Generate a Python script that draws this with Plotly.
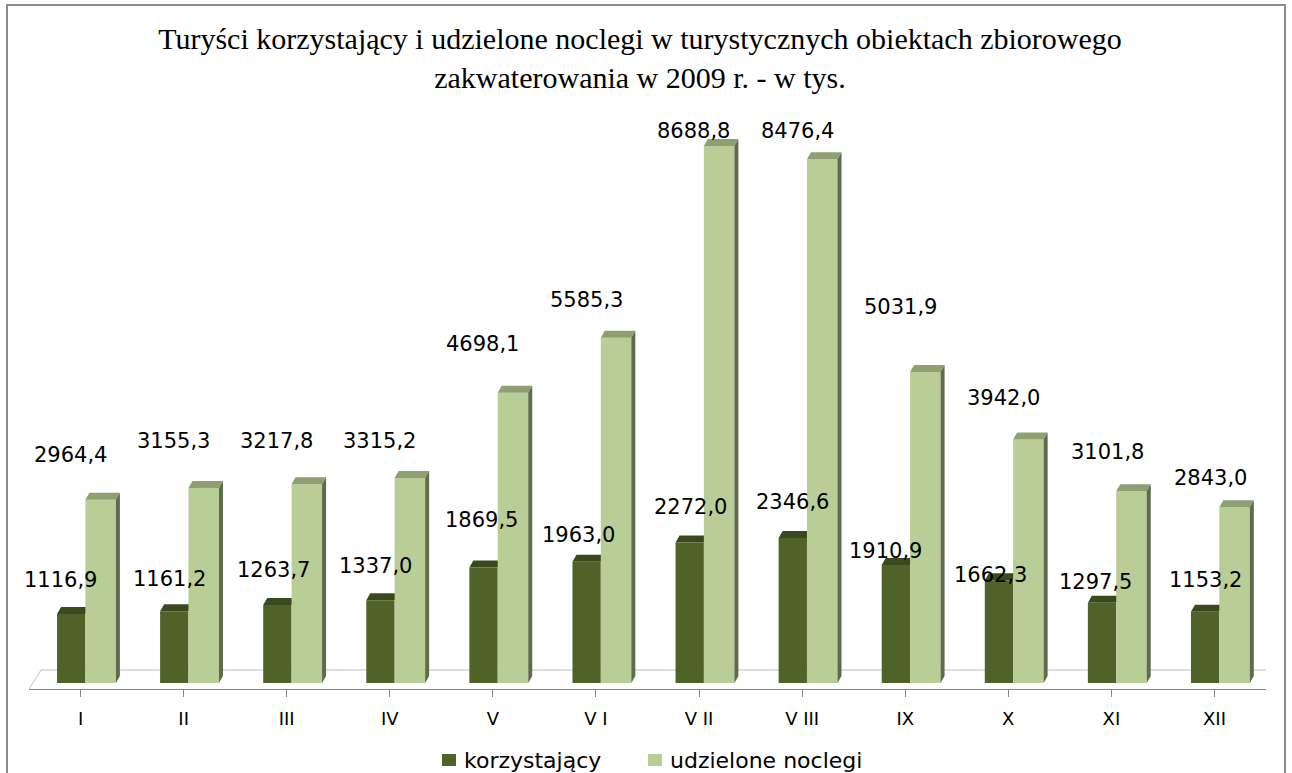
import plotly.graph_objects as go

# ---------------- data ----------------
months = ["I", "II", "III", "IV", "V", "V I", "V II", "V III", "IX", "X", "XI", "XII"]
korzystajacy = [1116.9, 1161.2, 1263.7, 1337.0, 1869.5, 1963.0, 2272.0, 2346.6, 1910.9, 1662.3, 1297.5, 1153.2]
noclegi = [2964.4, 3155.3, 3217.8, 3315.2, 4698.1, 5585.3, 8688.8, 8476.4, 5031.9, 3942.0, 3101.8, 2843.0]
labels_k = ["1116,9", "1161,2", "1263,7", "1337,0", "1869,5", "1963,0", "2272,0", "2346,6", "1910,9", "1662,3", "1297,5", "1153,2"]
labels_n = ["2964,4", "3155,3", "3217,8", "3315,2", "4698,1", "5585,3", "8688,8", "8476,4", "5031,9", "3942,0", "3101,8", "2843,0"]
series_names = ["korzystający", "udzielone noclegi"]

# label pixel offsets (position styling)
k_dx = [-20, -14, -13, -14, -11, -17, -9, -10, -20, -18, -16, -9]
k_dy = [34, 32, 35, 34, 47, 27, 36, 36, 14, 5, 21, 32]
n_dx = [-10, -10, -10, -10, -10, -9, -6, -5, -5, -5, -4, -4]
n_dy = [45, 47, 43, 37, 49, 38, 15, 28, 65, 41, 39, 29]

# ---------------- geometry ----------------
W, H = 1292, 773
ML, MR, MT, MB = 29, 26, 100, 84
plot_w = W - ML - MR
plot_h = H - MT - MB
cat_px = plot_w / 12.0
PX_PER_UNIT = 0.0618
ZERO_PX = 6  # value 0 lies 6px above plot bottom
y_min = -ZERO_PX / PX_PER_UNIT
y_max = y_min + plot_h / PX_PER_UNIT

def ux(px):
    return px / cat_px

def uy(px):
    return px / PX_PER_UNIT

def px_x(p):
    return (p - ML) / plot_w

def px_y(p):
    return (H - MB - p) / plot_h

DARK = "#4F6228"
DARK_TOP = "#3B4A1E"
LIGHT = "#B9CE96"
LIGHT_TOP = "#8E9F71"
LIGHT_SIDE = "#5F6B4A"
FONT = "DejaVu Sans"

k_off, k_w = -0.228, 0.275
n_off, n_w = 0.047, 0.296
DX, DY = ux(4), uy(7)

xs = list(range(12))
fig = go.Figure()
fig.add_trace(go.Bar(x=xs, y=korzystajacy, offset=k_off, width=k_w, marker_color=DARK,
                     marker_line_width=0, name=series_names[0]))
fig.add_trace(go.Bar(x=xs, y=noclegi, offset=n_off, width=n_w, marker_color=LIGHT,
                     marker_line_width=0, name=series_names[1]))

shapes = []
for i in xs:
    # dark top face
    x0, x1, v = i + k_off, i + k_off + k_w, korzystajacy[i]
    shapes.append(dict(type="path", xref="x", yref="y", layer="between",
                       path=f"M{x0},{v} L{x1},{v} L{x1+DX},{v+DY} L{x0+DX},{v+DY} Z",
                       fillcolor=DARK_TOP, line=dict(width=0)))
    # light top + side faces
    x0, x1, v = i + n_off, i + n_off + n_w, noclegi[i]
    shapes.append(dict(type="path", xref="x", yref="y", layer="above",
                       path=f"M{x0},{v} L{x1},{v} L{x1+DX},{v+DY} L{x0+DX},{v+DY} Z",
                       fillcolor=LIGHT_TOP, line=dict(width=0)))
    shapes.append(dict(type="path", xref="x", yref="y", layer="above",
                       path=f"M{x1},0 L{x1+DX},{DY} L{x1+DX},{v+DY} L{x1},{v} Z",
                       fillcolor=LIGHT_SIDE, line=dict(width=0)))

# floor (back and side edges)
fy = y_min
fdx, fdy = ux(12), uy(19)
shapes.append(dict(type="path", xref="x", yref="y", layer="below",
                   path=(f"M{-0.5},{fy} L{-0.5+fdx},{fy+fdy} L{11.5+fdx},{fy+fdy} "
                         f"L{11.5},{fy}"),
                   line=dict(color="#BFBFBF", width=1)))

# outer border
shapes.append(dict(type="rect", xref="paper", yref="paper",
                   x0=px_x(7), x1=px_x(1285), y0=px_y(790), y1=px_y(5),
                   line=dict(color="#8C8C8C", width=2), fillcolor="rgba(0,0,0,0)", layer="above"))

# legend keys (drawn manually for exact spacing)
legend_key_x = [442, 648]
legend_text_x = [462, 668]
LEG_Y = 760
for j, col in enumerate([DARK, LIGHT]):
    shapes.append(dict(type="rect", xref="paper", yref="paper",
                       x0=px_x(legend_key_x[j]), x1=px_x(legend_key_x[j] + 14),
                       y0=px_y(LEG_Y + 6), y1=px_y(LEG_Y - 6),
                       fillcolor=col, line=dict(width=0)))

annotations = []
for i in xs:
    annotations.append(dict(x=i, y=korzystajacy[i], xref="x", yref="y", text=labels_k[i],
                            showarrow=False, xshift=k_dx[i], yshift=k_dy[i],
                            font=dict(family=FONT, size=21, color="#000000")))
    annotations.append(dict(x=i, y=noclegi[i], xref="x", yref="y", text=labels_n[i],
                            showarrow=False, xshift=n_dx[i], yshift=n_dy[i],
                            font=dict(family=FONT, size=21, color="#000000")))
for j in range(2):
    annotations.append(dict(x=px_x(legend_text_x[j]), y=px_y(LEG_Y), xref="paper", yref="paper",
                            text=series_names[j], showarrow=False, xanchor="left", yanchor="middle",
                            font=dict(family=FONT, size=22, color="#000000")))

fig.update_layout(
    width=W, height=H,
    margin=dict(l=ML, r=MR, t=MT, b=MB, autoexpand=False),
    paper_bgcolor="white", plot_bgcolor="white",
    barmode="overlay",
    title=dict(text="Turyści korzystający i udzielone noclegi w turystycznych obiektach zbiorowego<br>zakwaterowania w 2009 r. - w tys.",
               x=640 / W, xanchor="center", y=1 - 49 / H, yanchor="middle",
               font=dict(family="Liberation Serif", size=30, color="#000000")),
    xaxis=dict(range=[-0.5, 11.5], tickvals=xs, ticktext=months, showgrid=False, zeroline=False,
               showline=True, linecolor="#868686", linewidth=1, ticks="outside", tickson="boundaries",
               ticklen=7, tickcolor="#868686", ticklabelstandoff=6,
               tickfont=dict(family=FONT, size=18, color="#000000")),
    yaxis=dict(range=[y_min, y_max], visible=False),
    shapes=shapes, annotations=annotations,
    showlegend=False,
)

fig.write_html("out.html", config={"displayModeBar": False},
               post_script="document.body.style.margin='0';")
